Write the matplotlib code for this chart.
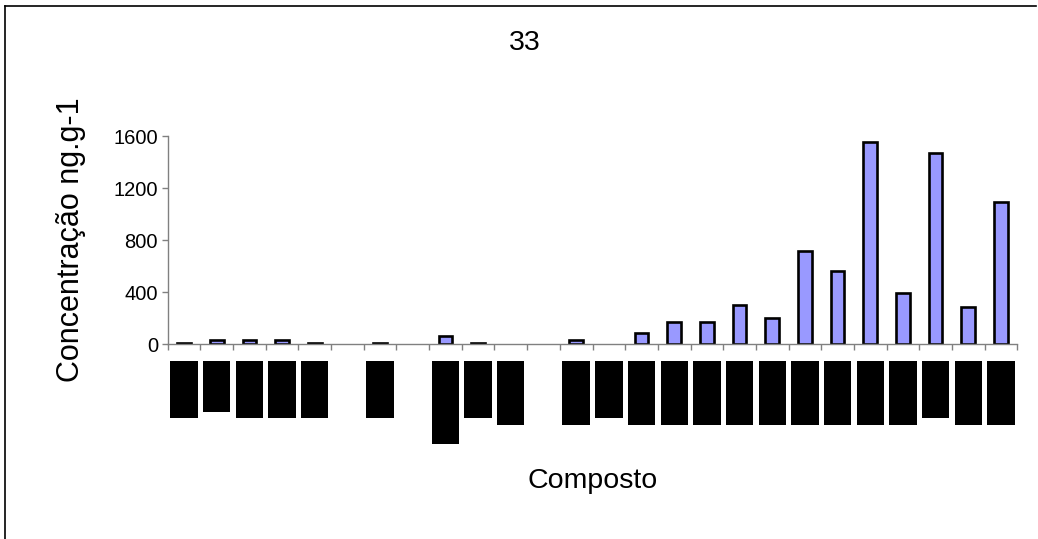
import numpy as np
import matplotlib
matplotlib.use("Agg")
import matplotlib.pyplot as plt
from matplotlib.lines import Line2D

plt.rcParams['font.family'] = ['Liberation Sans', 'DejaVu Sans']

# data (nan = no bar)
title = "33"
values = [10, 35, 35, 35, 10, np.nan, 10, np.nan, 65, 10, np.nan, np.nan, 35, np.nan,
          85, 175, 175, 305, 200, 720, 565, 1555, 395, 1470, 290, 1090]
# the compound names only show up as solid black blocks in the original
label_len = [6, 5, 6, 6, 6, 0, 6, 0, 10, 6, 7, 0, 7, 6,
             7, 7, 7, 7, 7, 7, 7, 7, 7, 6, 7, 7]
tick_labels = ["\u2588" * n for n in label_len]
yticks = [0, 400, 800, 1200, 1600]

x = np.arange(len(values))

fig = plt.figure(figsize=(10.38, 5.39), dpi=100)
ax = fig.add_axes([167.7 / 1038, 1 - 344.3 / 539, 849.6 / 1038, 208.3 / 539])

ax.bar(x, values, width=0.42, color='#9999FF', edgecolor='black', linewidth=1.9)

ax.set_xlim(-0.5, len(values) - 0.5)
ax.set_ylim(0, 1600)
ax.set_yticks(yticks)
ax.tick_params(axis='y', length=4, width=1, color='#808080', labelsize=14.5, pad=3)

# category boundaries get the tick marks, names sit between them
ax.set_xticks(np.arange(-0.5, len(values)), [])
ax.tick_params(axis='x', which='major', length=4.3, width=1, color='#808080')
ax.set_xticks(x, tick_labels, minor=True)
ax.tick_params(axis='x', which='minor', length=0, pad=18.6)
for lab in ax.get_xticklabels(minor=True):
    lab.set_rotation(90)
    lab.set_fontsize(6)
    lab.set_family('DejaVu Sans')
    if lab.get_text():
        lab.set_bbox(dict(boxstyle='square,pad=1.1', fc='black', ec='none'))

for s in ['top', 'right']:
    ax.spines[s].set_visible(False)
for s in ['left', 'bottom']:
    ax.spines[s].set_color('#808080')
    ax.spines[s].set_linewidth(1)

ax.set_ylabel("Concentração ng.g-1", fontsize=22, labelpad=20)
ax.set_xlabel("Composto", fontsize=20.5, labelpad=24)
fig.text(525 / 1038, 1 - 43 / 539, title, fontsize=20.5, ha='center', va='center')

# chart area border
fig.add_artist(Line2D([5 / 1038, 5 / 1038], [0, 1 - 6 / 539], color='black', lw=1.2,
                      transform=fig.transFigure))
fig.add_artist(Line2D([5 / 1038, 1036 / 1038], [1 - 6 / 539, 1 - 6 / 539], color='black',
                      lw=1.2, transform=fig.transFigure))

fig.savefig("out.png", dpi=100)
